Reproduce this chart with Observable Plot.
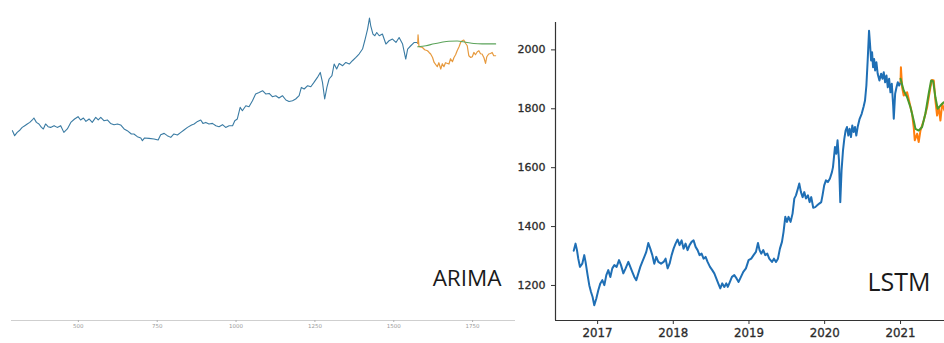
<!DOCTYPE html>
<html>
<head>
<meta charset="utf-8">
<script src="https://cdn.jsdelivr.net/npm/d3@7"></script>
<script src="https://cdn.jsdelivr.net/npm/@observablehq/plot@0.6"></script>
<style>
  body { margin: 0; background: #fff; }
  #wrap { display: flex; width: 944px; height: 343px; overflow: hidden; background: #fff; }
  #wrap svg { display: block; flex: none; }
  .lstm [aria-label$="tick label"] text { stroke: #2b2b2b; stroke-width: 0.3px; }
</style>
</head>
<body>
<div id="wrap"></div>
<script>
// ---------- ARIMA panel: price by observation index ----------
const arimaTrainIdx = [291, 298, 306, 315, 322, 330, 338, 346, 354, 359, 367, 375, 383, 389, 396, 404, 412, 423, 433, 444,
  454, 465, 476, 488, 499, 507, 516, 524, 534, 544, 555, 563, 571, 581, 592, 602, 613, 624, 634, 645,
  655, 668, 676, 687, 698, 703, 710, 724, 740, 753, 761, 772, 782, 793, 803, 814, 825, 835, 846, 859,
  867, 878, 888, 895, 904, 914, 925, 936, 946, 957, 967, 978, 989, 996, 1004, 1013, 1020, 1031, 1041, 1052,
  1062, 1073, 1084, 1094, 1105, 1115, 1126, 1136, 1147, 1158, 1168, 1179, 1189, 1200, 1207, 1216, 1227, 1237, 1247, 1258,
  1267, 1274, 1281, 1288, 1295, 1304, 1311, 1319, 1327, 1338, 1348, 1359, 1369, 1380, 1390, 1401, 1408, 1417, 1423, 1427,
  1434, 1440, 1446, 1454, 1464, 1475, 1485, 1496, 1507, 1517, 1528, 1538, 1544, 1554, 1565, 1573, 1576];
const arimaTrainVal = [1330, 1295, 1318, 1335, 1353, 1365, 1377, 1388, 1405, 1419, 1388, 1377, 1353, 1342, 1377, 1358, 1353, 1365, 1353, 1365,
  1318, 1342, 1388, 1412, 1428, 1405, 1419, 1395, 1412, 1388, 1423, 1405, 1423, 1400, 1405, 1381, 1372, 1377, 1370, 1342,
  1330, 1307, 1307, 1288, 1279, 1260, 1279, 1276, 1272, 1265, 1302, 1311, 1295, 1283, 1307, 1300, 1318, 1335, 1353, 1370,
  1377, 1395, 1405, 1381, 1388, 1377, 1381, 1365, 1358, 1372, 1353, 1365, 1365, 1400, 1412, 1493, 1470, 1505, 1498, 1540,
  1587, 1598, 1610, 1587, 1591, 1568, 1575, 1559, 1575, 1545, 1535, 1540, 1552, 1575, 1633, 1622, 1645, 1638, 1668, 1703,
  1738, 1668, 1552, 1633, 1692, 1715, 1797, 1762, 1801, 1785, 1808, 1797, 1820, 1843, 1867, 1902, 1960, 2042, 2119, 2065,
  2007, 1995, 2018, 1995, 2007, 1937, 1960, 1972, 1948, 1983, 1937, 1832, 1902, 1925, 1948, 1948, 1941];

const arimaTestIdx = [1576, 1577, 1580, 1591, 1598, 1607, 1612, 1617, 1623, 1628, 1638, 1643, 1649, 1654, 1659, 1664, 1675, 1680, 1686, 1691,
  1696, 1701, 1707, 1712, 1717, 1722, 1728, 1733, 1738, 1744, 1749, 1754, 1759, 1765, 1770, 1775, 1780, 1786, 1791, 1795,
  1801, 1807, 1812, 1817, 1823];
const arimaTestVal = [1941, 2002, 1918, 1913, 1897, 1890, 1878, 1867, 1843, 1808, 1778, 1806, 1762, 1799, 1778, 1806, 1797, 1834, 1813, 1843,
  1862, 1890, 1918, 1948, 1960, 1965, 1941, 1925, 1855, 1843, 1848, 1878, 1862, 1883, 1890, 1869, 1867, 1841, 1801, 1848,
  1867, 1871, 1878, 1855, 1855];

const arimaPredIdx = [1576, 1602, 1628, 1649, 1675, 1701, 1728, 1754, 1780, 1823];
const arimaPredVal = [1918, 1925, 1939, 1948, 1957, 1958, 1950, 1941, 1938, 1938];

const arimaTicks = [500, 750, 1000, 1250, 1500, 1750];

// ---------- LSTM panel: price by date (decimal years) ----------
const lstmTrainYear = [2016.685, 2016.692, 2016.709, 2016.728, 2016.745, 2016.767, 2016.798, 2016.824, 2016.841, 2016.868,
  2016.890, 2016.913, 2016.934, 2016.956, 2016.983, 2017.009, 2017.036, 2017.062, 2017.089, 2017.115,
  2017.141, 2017.168, 2017.194, 2017.221, 2017.251, 2017.283, 2017.309, 2017.340, 2017.370, 2017.406,
  2017.432, 2017.458, 2017.485, 2017.511, 2017.538, 2017.564, 2017.590, 2017.617, 2017.643, 2017.670,
  2017.696, 2017.723, 2017.749, 2017.775, 2017.802, 2017.838, 2017.872, 2017.898, 2017.925, 2017.951,
  2017.978, 2018.004, 2018.030, 2018.057, 2018.083, 2018.110, 2018.136, 2018.162, 2018.189, 2018.215,
  2018.242, 2018.268, 2018.295, 2018.321, 2018.347, 2018.374, 2018.400, 2018.427, 2018.453, 2018.485,
  2018.515, 2018.542, 2018.568, 2018.594, 2018.621, 2018.647, 2018.674, 2018.700, 2018.720, 2018.740,
  2018.775, 2018.806, 2018.836, 2018.863, 2018.894, 2018.925, 2018.960, 2018.995, 2019.030, 2019.061,
  2019.092, 2019.119, 2019.140, 2019.162, 2019.189, 2019.215, 2019.242, 2019.268, 2019.304, 2019.330,
  2019.357, 2019.383, 2019.409, 2019.436, 2019.457, 2019.480, 2019.502, 2019.523, 2019.550, 2019.576,
  2019.599, 2019.621, 2019.647, 2019.665, 2019.687, 2019.709, 2019.731, 2019.753, 2019.779, 2019.801,
  2019.823, 2019.849, 2019.876, 2019.902, 2019.929, 2019.955, 2019.972, 2019.994, 2020.017, 2020.043,
  2020.070, 2020.096, 2020.110, 2020.136, 2020.153, 2020.170, 2020.189, 2020.206, 2020.223, 2020.242,
  2020.259, 2020.276, 2020.294, 2020.312, 2020.329, 2020.347, 2020.364, 2020.382, 2020.400, 2020.417,
  2020.435, 2020.461, 2020.488, 2020.514, 2020.532, 2020.550, 2020.567, 2020.585, 2020.598, 2020.612,
  2020.625, 2020.638, 2020.652, 2020.665, 2020.682, 2020.699, 2020.722, 2020.744, 2020.762, 2020.779,
  2020.797, 2020.815, 2020.832, 2020.850, 2020.867, 2020.885, 2020.903, 2020.911, 2020.929, 2020.947,
  2020.964, 2020.982, 2021.000];
const lstmTrainVal = [1318, 1325, 1342, 1320, 1291, 1263, 1274, 1303, 1280, 1235,
  1201, 1178, 1161, 1133, 1156, 1184, 1207, 1218, 1201, 1235,
  1252, 1229, 1258, 1269, 1263, 1286, 1269, 1241, 1258, 1280,
  1263, 1246, 1229, 1218, 1241, 1263, 1280, 1297, 1314, 1344,
  1325, 1303, 1274, 1297, 1280, 1274, 1280, 1291, 1258, 1274,
  1303, 1325, 1342, 1356, 1337, 1353, 1325, 1342, 1320, 1337,
  1348, 1353, 1331, 1320, 1303, 1308, 1291, 1297, 1280, 1263,
  1252, 1241, 1224, 1207, 1190, 1207, 1195, 1207, 1195, 1207,
  1229, 1235, 1224, 1212, 1229, 1246, 1258, 1286, 1291, 1303,
  1314, 1344, 1320, 1308, 1320, 1303, 1308, 1291, 1280, 1291,
  1280, 1291, 1325, 1348, 1382, 1433, 1416, 1433, 1416, 1444,
  1495, 1506, 1529, 1546, 1517, 1500, 1517, 1495, 1506, 1483,
  1500, 1464, 1466, 1472, 1478, 1483, 1506, 1540, 1557, 1551,
  1563, 1585, 1602, 1670, 1647, 1693, 1625, 1483, 1591, 1659,
  1698, 1726, 1738, 1709, 1732, 1704, 1743, 1721, 1738, 1709,
  1738, 1766, 1783, 1808, 1828, 1879, 1964, 2065, 2020, 1964,
  1992, 1941, 1969, 1930, 1958, 1919, 1896, 1919, 1902, 1924,
  1890, 1913, 1873, 1902, 1856, 1885, 1811, 1766, 1851, 1873,
  1890, 1879, 1890];

const lstmActualYear = [2021.000, 2021.005, 2021.021, 2021.042, 2021.087, 2021.122, 2021.153, 2021.174, 2021.188, 2021.219,
  2021.240, 2021.263, 2021.306, 2021.351, 2021.395, 2021.417, 2021.439, 2021.461, 2021.483, 2021.505,
  2021.527, 2021.550, 2021.580];
const lstmActualVal = [1890, 1941, 1873, 1845, 1856, 1817, 1783, 1738, 1693, 1715,
  1687, 1726, 1760, 1805, 1873, 1898, 1896, 1828, 1777, 1805,
  1760, 1817, 1794];

const lstmPredYear = [2021.000, 2021.042, 2021.087, 2021.131, 2021.174, 2021.197, 2021.240, 2021.285, 2021.328, 2021.372,
  2021.404, 2021.431, 2021.461, 2021.491, 2021.527, 2021.571];
const lstmPredVal = [1902, 1862, 1839, 1805, 1760, 1732, 1726, 1738, 1783, 1851,
  1896, 1894, 1839, 1800, 1811, 1822];

const lstmTickYears = [2017, 2018, 2019, 2020, 2021];
const lstmTickValues = [1200, 1400, 1600, 1800, 2000];

// decimal year -> UTC Date
function yearToDate(y) {
  const yr = Math.floor(y);
  const a = Date.UTC(yr, 0, 1), b = Date.UTC(yr + 1, 0, 1);
  return new Date(a + (y - yr) * (b - a));
}
const zip = (xs, ys) => xs.map((x, i) => ({x, y: ys[i]}));
const zipDate = (xs, ys) => xs.map((x, i) => ({x: yearToDate(x), y: ys[i]}));

// ---------- left chart ----------
const arima = Plot.plot({
  width: 516,
  height: 343,
  marginLeft: 11,
  marginRight: 1,
  marginTop: 6,
  marginBottom: 23,
  style: {background: "#fff", fontFamily: "DejaVu Sans, sans-serif"},
  x: {domain: [288, 1886]},
  y: {domain: [0, 2200], axis: null},
  marks: [
    Plot.ruleY([0], {stroke: "#cfcfcf", strokeWidth: 1}),
    Plot.axisX({ticks: arimaTicks, tickSize: 2, tickPadding: 2, fontSize: 5.5, color: "#9a9a9a", stroke: "#b0b0b0",
      tickFormat: d => String(d), label: null}),
    Plot.lineY(zip(arimaTrainIdx, arimaTrainVal), {x: "x", y: "y", stroke: "#3a7ba3", strokeWidth: 1.1}),
    Plot.lineY(zip(arimaTestIdx, arimaTestVal), {x: "x", y: "y", stroke: "#e79a3e", strokeWidth: 1.2}),
    Plot.lineY(zip(arimaPredIdx, arimaPredVal), {x: "x", y: "y", stroke: "#5ba35a", strokeWidth: 1.1, curve: "monotone-x"}),
    Plot.text(["ARIMA"], {frameAnchor: "bottom-right", textAnchor: "end", lineAnchor: "bottom", dx: -14, dy: -35,
      fontSize: 22.5, fill: "#1a1a1a", fontFamily: "Open Sans, sans-serif"})
  ]
});

// ---------- right chart ----------
const xStart = yearToDate(2016.445), xEnd = yearToDate(2021.581);
const lstm = Plot.plot({
  width: 428,
  height: 343,
  marginLeft: 39,
  marginRight: 0,
  marginTop: 22,
  marginBottom: 23,
  className: "lstm",
  style: {background: "#fff", fontFamily: "DejaVu Sans, sans-serif"},
  x: {type: "utc", domain: [xStart, xEnd]},
  y: {domain: [1081, 2093]},
  marks: [
    Plot.axisY({ticks: lstmTickValues, tickSize: 4, tickPadding: 6, fontSize: 11, color: "#2b2b2b", stroke: "#333",
      tickFormat: d => String(d), label: null}),
    Plot.axisX({ticks: lstmTickYears.map(yearToDate), tickSize: 4, tickPadding: 4, fontSize: 11.8, color: "#2b2b2b", stroke: "#333",
      tickFormat: d3.utcFormat("%Y"), label: null}),
    Plot.ruleX([xStart], {stroke: "#333", strokeWidth: 1.2}),
    Plot.ruleY([1081], {stroke: "#333", strokeWidth: 1.2}),
    Plot.lineY(zipDate(lstmTrainYear, lstmTrainVal), {x: "x", y: "y", stroke: "#1f6fb5", strokeWidth: 2, clip: true}),
    Plot.lineY(zipDate(lstmActualYear, lstmActualVal), {x: "x", y: "y", stroke: "#ff7f0e", strokeWidth: 2, clip: true}),
    Plot.lineY(zipDate(lstmPredYear, lstmPredVal), {x: "x", y: "y", stroke: "#4a9a2c", strokeWidth: 2, clip: true}),
    Plot.text(["LSTM"], {frameAnchor: "bottom-right", textAnchor: "end", lineAnchor: "bottom", dx: -14, dy: -30,
      fontSize: 25, fill: "#1a1a1a", fontFamily: "Open Sans, sans-serif"})
  ]
});

const wrap = document.getElementById("wrap");
wrap.appendChild(arima);
wrap.appendChild(lstm);
</script>
</body>
</html>
